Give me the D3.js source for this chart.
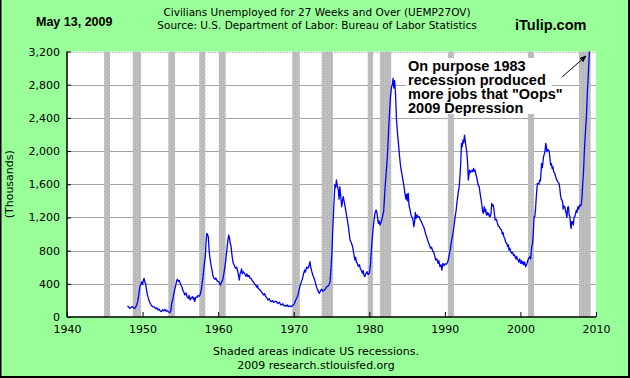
<!DOCTYPE html>
<html>
<head>
<meta charset="utf-8">
<script src="https://cdn.jsdelivr.net/npm/d3@7"></script>
<style>
  body { margin: 0; background: #fff; }
</style>
</head>
<body>
<script>
// long term unemployed, thousands

let w = 630;
let h = 378;

let uemp27ov = [
  [1948.0,133],[1948.15,120],[1948.3,105],[1948.45,112],[1948.6,124],[1948.75,118],[1948.9,105],
  [1949.05,110],[1949.2,140],[1949.35,185],[1949.5,270],[1949.65,370],[1949.8,400],[1949.9,425],
  [1950.0,390],[1950.1,440],[1950.2,466],[1950.3,420],[1950.4,406],[1950.5,340],[1950.6,285],
  [1950.75,230],[1950.9,185],[1951.05,160],[1951.2,133],[1951.4,125],[1951.6,117],[1951.75,100],
  [1951.9,110],[1952.05,84],[1952.2,95],[1952.35,70],[1952.5,64],[1952.65,88],[1952.8,75],
  [1952.95,93],[1953.1,70],[1953.25,80],[1953.4,64],[1953.5,58],[1953.6,52],[1953.75,80],
  [1953.85,165],[1954.0,210],[1954.1,265],[1954.25,330],[1954.4,386],[1954.5,430],[1954.6,454],
  [1954.75,430],[1954.85,440],[1954.95,415],[1955.1,380],[1955.2,365],[1955.35,320],[1955.5,290],
  [1955.6,265],[1955.75,290],[1955.9,240],[1956.05,225],[1956.15,260],[1956.3,205],[1956.45,230],
  [1956.6,245],[1956.7,215],[1956.8,235],[1956.9,185],[1957.05,240],[1957.2,237],[1957.35,260],
  [1957.5,250],[1957.6,265],[1957.7,300],[1957.8,346],[1957.9,420],[1958.0,486],[1958.1,580],
  [1958.2,660],[1958.3,727],[1958.4,900],[1958.5,1009],[1958.6,990],[1958.7,968],[1958.8,807],
  [1958.9,720],[1959.0,660],[1959.1,606],[1959.2,560],[1959.3,500],[1959.45,466],[1959.6,455],
  [1959.7,470],[1959.8,446],[1959.95,430],[1960.1,425],[1960.2,400],[1960.3,386],[1960.45,420],
  [1960.6,446],[1960.75,520],[1960.9,606],[1961.05,720],[1961.2,847],[1961.3,930],[1961.4,988],
  [1961.5,950],[1961.6,888],[1961.7,860],[1961.8,767],[1961.9,700],[1962.0,647],[1962.15,620],
  [1962.3,587],[1962.45,600],[1962.6,546],[1962.7,500],[1962.8,446],[1962.9,520],[1963.0,546],
  [1963.1,580],[1963.2,520],[1963.3,546],[1963.45,530],[1963.6,506],[1963.7,490],[1963.8,520],
  [1963.95,486],[1964.1,500],[1964.2,470],[1964.35,466],[1964.5,440],[1964.65,425],[1964.8,400],
  [1964.97,386],[1965.1,360],[1965.2,380],[1965.3,346],[1965.45,330],[1965.6,320],[1965.7,305],
  [1965.85,290],[1966.0,265],[1966.15,280],[1966.3,245],[1966.45,230],[1966.6,205],[1966.75,220],
  [1966.9,195],[1967.05,185],[1967.2,200],[1967.35,175],[1967.5,185],[1967.65,190],[1967.8,170],
  [1967.95,165],[1968.1,180],[1968.25,150],[1968.4,145],[1968.55,160],[1968.7,135],[1968.85,140],
  [1969.0,130],[1969.15,145],[1969.3,124],[1969.45,135],[1969.6,124],[1969.75,130],[1969.95,145],
  [1970.1,165],[1970.25,200],[1970.4,230],[1970.55,260],[1970.7,320],[1970.85,380],[1971.0,420],
  [1971.15,460],[1971.3,520],[1971.45,566],[1971.55,540],[1971.7,600],[1971.85,587],[1972.0,610],
  [1972.15,667],[1972.25,600],[1972.4,546],[1972.55,500],[1972.7,466],[1972.85,420],[1973.0,365],
  [1973.15,330],[1973.3,300],[1973.4,285],[1973.55,320],[1973.7,334],[1973.85,310],[1974.05,325],
  [1974.2,340],[1974.35,365],[1974.5,370],[1974.65,386],[1974.8,420],[1974.95,606],[1975.05,760],
  [1975.15,1009],[1975.3,1329],[1975.45,1591],[1975.55,1560],[1975.65,1651],[1975.75,1590],
  [1975.9,1530],[1976.0,1420],[1976.1,1570],[1976.2,1480],[1976.35,1329],[1976.45,1400],
  [1976.55,1450],[1976.7,1380],[1976.8,1329],[1976.95,1250],[1977.1,1169],[1977.25,1080],
  [1977.45,928],[1977.6,900],[1977.8,847],[1977.95,760],[1978.1,687],[1978.2,720],[1978.3,660],
  [1978.4,647],[1978.55,610],[1978.7,630],[1978.8,587],[1978.95,560],[1979.1,527],[1979.2,560],
  [1979.3,500],[1979.4,486],[1979.55,520],[1979.7,546],[1979.85,510],[1980.0,527],[1980.15,620],
  [1980.3,840],[1980.45,1009],[1980.6,1150],[1980.75,1250],[1980.9,1290],[1980.98,1269],
  [1981.1,1200],[1981.2,1129],[1981.3,1160],[1981.4,1109],[1981.55,1140],[1981.65,1169],
  [1981.8,1230],[1981.9,1269],[1982.0,1420],[1982.1,1570],[1982.2,1700],[1982.3,1811],
  [1982.4,1950],[1982.5,2133],[1982.6,2330],[1982.7,2494],[1982.8,2650],[1982.95,2775],
  [1983.05,2800],[1983.15,2876],[1983.25,2760],[1983.35,2850],[1983.45,2720],[1983.55,2500],
  [1983.6,2374],[1983.75,2200],[1983.9,2050],[1983.97,1973],[1984.1,1850],[1984.2,1780],
  [1984.3,1732],[1984.45,1650],[1984.6,1570],[1984.7,1500],[1984.85,1420],[1984.95,1480],
  [1985.05,1400],[1985.15,1490],[1985.25,1350],[1985.35,1309],[1985.5,1240],[1985.6,1209],
  [1985.75,1190],[1985.9,1088],[1986.0,1150],[1986.1,1260],[1986.2,1189],[1986.35,1229],
  [1986.45,1200],[1986.6,1209],[1986.75,1170],[1986.9,1149],[1987.05,1110],[1987.2,1088],
  [1987.35,1040],[1987.5,988],[1987.65,950],[1987.8,907],[1987.95,870],[1988.1,828],[1988.25,840],
  [1988.4,790],[1988.5,787],[1988.65,740],[1988.8,687],[1988.95,700],[1989.1,647],[1989.2,680],
  [1989.35,606],[1989.5,630],[1989.6,566],[1989.75,647],[1989.9,620],[1990.05,640],[1990.25,639],
  [1990.35,660],[1990.45,687],[1990.6,760],[1990.7,807],[1990.9,928],[1991.05,1000],[1991.2,1088],
  [1991.35,1200],[1991.5,1289],[1991.6,1380],[1991.7,1450],[1991.8,1520],[1991.9,1570],
  [1992.0,1700],[1992.1,1852],[1992.2,2093],[1992.3,2050],[1992.4,2133],[1992.5,2100],
  [1992.6,2193],[1992.7,2120],[1992.8,2052],[1992.9,1990],[1992.95,1932],[1993.05,1800],
  [1993.1,1651],[1993.2,1720],[1993.25,1771],[1993.4,1740],[1993.5,1760],[1993.6,1771],
  [1993.7,1750],[1993.8,1791],[1993.9,1760],[1994.0,1771],[1994.1,1720],[1994.2,1691],
  [1994.3,1640],[1994.4,1590],[1994.55,1570],[1994.65,1500],[1994.8,1410],[1994.9,1350],
  [1995.0,1269],[1995.1,1250],[1995.2,1329],[1995.3,1270],[1995.4,1300],[1995.5,1229],
  [1995.6,1260],[1995.7,1230],[1995.8,1250],[1995.9,1209],[1996.0,1209],[1996.1,1240],
  [1996.2,1370],[1996.3,1340],[1996.4,1350],[1996.5,1290],[1996.65,1169],[1996.8,1180],
  [1996.9,1149],[1997.05,1100],[1997.2,1088],[1997.35,1060],[1997.5,1048],[1997.6,1000],
  [1997.7,1020],[1997.8,968],[1997.95,940],[1998.05,900],[1998.2,888],[1998.3,850],[1998.4,870],
  [1998.5,807],[1998.6,830],[1998.7,790],[1998.85,767],[1998.95,780],[1999.1,740],[1999.2,750],
  [1999.3,727],[1999.4,700],[1999.5,730],[1999.6,690],[1999.7,687],[1999.8,660],[1999.9,700],
  [2000.05,647],[2000.15,680],[2000.25,640],[2000.35,667],[2000.45,630],[2000.55,660],
  [2000.7,606],[2000.85,640],[2001.0,687],[2001.1,707],[2001.25,727],[2001.35,700],[2001.5,847],
  [2001.6,888],[2001.7,1000],[2001.8,1209],[2001.9,1209],[2002.0,1300],[2002.1,1450],
  [2002.15,1510],[2002.25,1611],[2002.35,1611],[2002.45,1600],[2002.55,1651],[2002.65,1640],
  [2002.8,1852],[2002.9,1800],[2003.0,1880],[2003.05,1932],[2003.15,1960],[2003.25,2000],
  [2003.35,2093],[2003.42,2060],[2003.5,1992],[2003.6,2020],[2003.7,2012],[2003.8,2000],
  [2003.9,1920],[2004.0,1832],[2004.1,1850],[2004.2,1790],[2004.3,1811],[2004.4,1750],
  [2004.5,1740],[2004.6,1711],[2004.7,1680],[2004.8,1651],[2004.9,1640],[2005.0,1620],
  [2005.1,1611],[2005.2,1560],[2005.3,1470],[2005.4,1420],[2005.5,1410],[2005.6,1370],
  [2005.65,1300],[2005.75,1340],[2005.85,1329],[2005.95,1290],[2006.05,1250],[2006.15,1200],
  [2006.25,1320],[2006.35,1329],[2006.45,1230],[2006.55,1209],[2006.65,1100],[2006.7,1069],
  [2006.8,1150],[2006.9,1149],[2007.0,1110],[2007.1,1200],[2007.2,1209],[2007.3,1250],
  [2007.4,1289],[2007.5,1260],[2007.6,1329],[2007.7,1300],[2007.85,1350],[2007.95,1340],
  [2008.05,1350],[2008.15,1450],[2008.25,1611],[2008.35,1750],[2008.45,1973],[2008.55,2150],
  [2008.65,2300],[2008.75,2450],[2008.85,2700],[2008.95,2856],[2009.05,3050],[2009.15,3250],
  [2009.25,3600]
];

let recessions = [
  [1944.9,1945.7],[1948.7,1949.8],[1953.4,1954.3],[1957.5,1958.3],[1960.1,1961.0],
  [1969.8,1970.8],[1973.7,1975.2],[1979.8,1980.5],[1981.4,1982.9],[1990.4,1991.2],
  [2001.0,2001.8],[2007.75,2009.3]
];

let yTicks = [0, 400, 800, 1200, 1600, 2000, 2400, 2800, 3200];
let xTicks = [1940, 1950, 1960, 1970, 1980, 1990, 2000, 2010];

let titleLines = ['Civilians Unemployed for 27 Weeks and Over (UEMP27OV)',
                  'Source: U.S. Department of Labor: Bureau of Labor Statistics'];
let noteLines = ['Shaded areas indicate US recessions.', '2009 research.stlouisfed.org'];
let annotation = ['On purpose 1983', 'recession produced', 'more jobs that "Oops"', '2009 Depression'];

let sans = '"DejaVu Sans", Verdana, sans-serif';
let arial = '"Liberation Sans", Arial, sans-serif';

let plot = { left: 67, right: 596, top: 51.5, bottom: 317 };

let svg = d3.select('body').append('svg')
    .attr('width', w).attr('height', h)
    .style('font-family', sans);

// background + frame
svg.append('rect').attr('width', w).attr('height', h).attr('fill', '#99ff99');
svg.append('path')
    .attr('d', `M0.5,0 V${h - 1} H${w - 1} V0`)
    .attr('fill', 'none').attr('stroke', '#000').attr('stroke-width', 2);

let defs = svg.append('defs');
let pat = defs.append('pattern').attr('id', 'stipple')
    .attr('width', 4).attr('height', 4).attr('patternUnits', 'userSpaceOnUse');
pat.append('rect').attr('width', 4).attr('height', 4).attr('fill', '#bababa');
pat.append('rect').attr('x', 0).attr('y', 0).attr('width', 1).attr('height', 1).attr('fill', '#cfcfcf');
pat.append('rect').attr('x', 2).attr('y', 2).attr('width', 1).attr('height', 1).attr('fill', '#cfcfcf');
pat.append('rect').attr('x', 3).attr('y', 1).attr('width', 1).attr('height', 1).attr('fill', '#adadad');

defs.append('clipPath').attr('id', 'plotclip')
    .append('rect')
    .attr('x', plot.left).attr('y', plot.top)
    .attr('width', plot.right - plot.left).attr('height', plot.bottom - plot.top);

let x = d3.scaleLinear().domain([1940, 2010]).range([plot.left, plot.right]);
let y = d3.scaleLinear().domain([0, 3200]).range([plot.bottom, plot.top]);

svg.append('rect')
    .attr('x', plot.left).attr('y', plot.top)
    .attr('width', plot.right - plot.left).attr('height', plot.bottom - plot.top)
    .attr('fill', '#fff');

// gridlines
svg.append('g').selectAll('line')
    .data(yTicks.filter(d => d > 0))
    .enter().append('line')
    .attr('x1', plot.left).attr('x2', plot.right)
    .attr('y1', d => Math.round(y(d)) + 0.5).attr('y2', d => Math.round(y(d)) + 0.5)
    .attr('stroke', d => d == 3200 ? '#c8c8c8' : '#a4a4a4')
    .attr('stroke-dasharray', d => d == 3200 ? '2,1' : null);

// recession bars
svg.append('g').selectAll('rect')
    .data(recessions)
    .enter().append('rect')
    .attr('x', d => x(d[0]))
    .attr('width', d => x(d[1]) - x(d[0]))
    .attr('y', plot.top)
    .attr('height', plot.bottom - plot.top)
    .attr('fill', 'url(#stipple)');

// series
let line = d3.line().x(d => x(d[0])).y(d => y(d[1]));
svg.append('path')
    .datum(uemp27ov)
    .attr('clip-path', 'url(#plotclip)')
    .attr('d', line)
    .attr('fill', 'none')
    .attr('stroke', '#0000ff')
    .attr('stroke-width', 1.3)
    .attr('stroke-linejoin', 'round');

// axes
let yAxis = d3.axisLeft(y).tickValues(yTicks).tickFormat(d3.format(',')).tickSize(-4).tickPadding(7);
let gy = svg.append('g').attr('transform', `translate(${plot.left},0)`).call(yAxis);
let xAxis = d3.axisBottom(x).tickValues(xTicks).tickFormat(d3.format('d')).tickSize(-5).tickPadding(8);
let gx = svg.append('g').attr('transform', `translate(0,${plot.bottom})`).call(xAxis);

[gx, gy].forEach(g => {
    g.attr('font-family', null);
    g.select('.domain').attr('stroke', '#000').attr('stroke-width', 1.5);
    g.selectAll('.tick line').attr('stroke', '#000');
    g.selectAll('text').style('font-family', sans)
        .attr('font-size', 11).attr('fill', '#000');
});
gx.select('.domain').attr('d', `M${plot.left},0H${plot.right}`);
gy.select('.domain').attr('d', `M0,${plot.bottom}V${plot.top}`);

svg.append('text')
    .attr('transform', `translate(13,${(plot.top + plot.bottom) / 2}) rotate(-90)`)
    .attr('text-anchor', 'middle')
    .attr('font-size', 11)
    .text('(Thousands)');

// header
svg.selectAll('.title')
    .data(titleLines)
    .enter().append('text')
    .attr('class', 'title')
    .attr('x', 317).attr('y', (d, i) => 16 + i * 13)
    .attr('text-anchor', 'middle')
    .attr('font-size', 10.5)
    .text(d => d);

svg.append('text')
    .attr('x', 36).attr('y', 26)
    .style('font-family', arial)
    .attr('font-weight', 'bold').attr('font-size', 12.5)
    .text('May 13, 2009');

svg.append('text')
    .attr('x', 515).attr('y', 30)
    .style('font-family', arial)
    .attr('font-weight', 'bold').attr('font-size', 14.5)
    .text('iTulip.com');

// footer
svg.selectAll('.note')
    .data(noteLines)
    .enter().append('text')
    .attr('class', 'note')
    .attr('x', 316).attr('y', (d, i) => 355 + i * 14)
    .attr('text-anchor', 'middle')
    .attr('font-size', 11)
    .text(d => d);

// annotation: one text block, white strip behind each line
let ann = svg.append('g');
let annBlock = ann.append('text')
    .style('font-family', arial)
    .attr('font-weight', 'bold').attr('font-size', 14.5);
let spans = annBlock.selectAll('tspan')
    .data(annotation)
    .enter().append('tspan')
    .attr('x', 408).attr('y', (d, i) => 71 + i * 14)
    .text(d => d);

spans.each(function (d, i) {
    let len = this.getComputedTextLength();
    ann.insert('rect', 'text')
        .attr('x', 406).attr('y', 58 + i * 14)
        .attr('width', Math.max(len + 8, 130)).attr('height', 14)
        .attr('fill', '#fff');
});

defs.append('marker').attr('id', 'arrowhead')
    .attr('viewBox', '0 0 10 10').attr('refX', 9).attr('refY', 5)
    .attr('markerWidth', 7).attr('markerHeight', 7).attr('orient', 'auto')
    .append('path').attr('d', 'M0,1 L10,5 L0,9 z').attr('fill', '#000');

svg.append('line')
    .attr('x1', 562).attr('y1', 77).attr('x2', 586).attr('y2', 56)
    .attr('stroke', '#000').attr('stroke-width', 1)
    .attr('marker-end', 'url(#arrowhead)');
</script>
</body>
</html>
